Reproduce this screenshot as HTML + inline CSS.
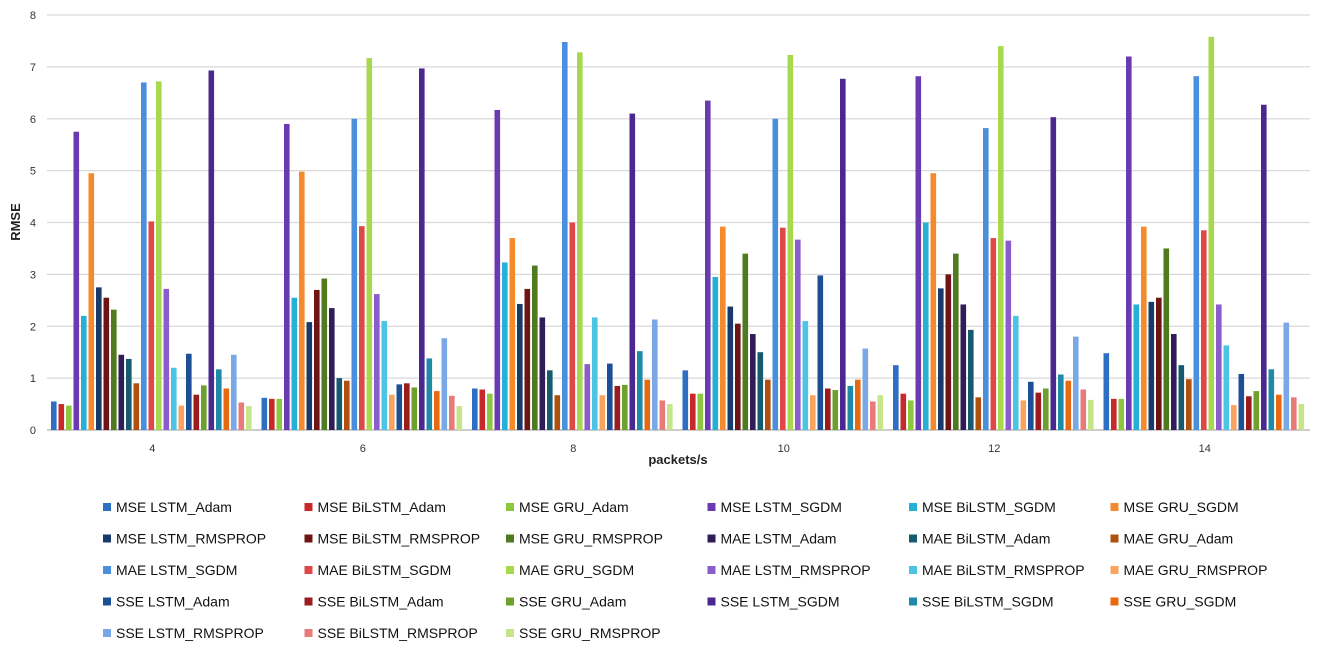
<!DOCTYPE html>
<html><head><meta charset="utf-8"><style>
body{margin:0;background:#fff;font-family:"Liberation Sans",sans-serif}
svg text{font-family:"Liberation Sans",sans-serif}
</style></head><body>
<svg width="1325" height="653" viewBox="0 0 1325 653">
<g id="grid"></g>
<g id="bars"></g>
<g id="axes"></g>
<g id="legend"></g>
<text x="20" y="222" transform="rotate(-90 20 222)" text-anchor="middle" font-size="13" font-weight="bold" fill="#222">RMSE</text>
<text x="678" y="464" text-anchor="middle" font-size="13" font-weight="bold" fill="#222">packets/s</text>
</svg>
<script>
const categories=["4","6","8","10","12","14"];
const seriesNames=["MSE LSTM_Adam","MSE BiLSTM_Adam","MSE GRU_Adam","MSE LSTM_SGDM","MSE BiLSTM_SGDM","MSE GRU_SGDM","MSE LSTM_RMSPROP","MSE BiLSTM_RMSPROP","MSE GRU_RMSPROP","MAE LSTM_Adam","MAE BiLSTM_Adam","MAE GRU_Adam","MAE LSTM_SGDM","MAE BiLSTM_SGDM","MAE GRU_SGDM","MAE LSTM_RMSPROP","MAE BiLSTM_RMSPROP","MAE GRU_RMSPROP","SSE LSTM_Adam","SSE BiLSTM_Adam","SSE GRU_Adam","SSE LSTM_SGDM","SSE BiLSTM_SGDM","SSE GRU_SGDM","SSE LSTM_RMSPROP","SSE BiLSTM_RMSPROP","SSE GRU_RMSPROP"];
const colors=["#2e6fc4","#c8282a","#8dc63f","#6a3bb0","#27b0d6","#f58a2c","#173a6b","#6f1414","#4f7a1f","#2f1c58","#155a6e","#b0500e","#4a8fdc","#e04848","#a8d84e","#8b5ccc","#4cc4e4","#f8a460","#1d4f94","#9a1c1c","#6ea02e","#4a2890","#1f8aa8","#e86a10","#7aa8e6","#e87a7a","#c6e48a"];
const values4=[0.55,0.5,0.47,5.75,2.2,4.95,2.75,2.55,2.32,1.45,1.37,0.9,6.7,4.02,6.72,2.72,1.2,0.47,1.47,0.68,0.86,6.93,1.17,0.8,1.45,0.53,0.46];
const values6=[0.62,0.6,0.6,5.9,2.55,4.98,2.08,2.7,2.92,2.35,1.0,0.95,6.0,3.93,7.17,2.62,2.1,0.68,0.88,0.9,0.82,6.97,1.38,0.75,1.77,0.66,0.46];
const values8=[0.8,0.78,0.7,6.17,3.23,3.7,2.43,2.72,3.17,2.17,1.15,0.67,7.48,4.0,7.28,1.27,2.17,0.67,1.28,0.85,0.87,6.1,1.52,0.97,2.13,0.57,0.5];
const values10=[1.15,0.7,0.7,6.35,2.95,3.92,2.38,2.05,3.4,1.85,1.5,0.97,6.0,3.9,7.23,3.67,2.1,0.67,2.98,0.8,0.77,6.77,0.85,0.97,1.57,0.55,0.67];
const values12=[1.25,0.7,0.57,6.82,4.0,4.95,2.73,3.0,3.4,2.42,1.93,0.63,5.82,3.7,7.4,3.65,2.2,0.57,0.93,0.72,0.8,6.03,1.07,0.95,1.8,0.78,0.58];
const values14=[1.48,0.6,0.6,7.2,2.42,3.92,2.47,2.55,3.5,1.85,1.25,0.98,6.82,3.85,7.58,2.42,1.63,0.48,1.08,0.65,0.75,6.27,1.17,0.68,2.07,0.63,0.5];
const yTicks=[0,1,2,3,4,5,6,7,8];
const groupValues=[values4,values6,values8,values10,values12,values14];
const NS="http://www.w3.org/2000/svg";
const X0=47,X1=1310,Y0=430,Y8=15;
const yScale=v=>Y0-(v/8)*(Y0-Y8);
const gw=(X1-X0)/categories.length;
const slot=7.5,bw=5.6;
function mk(t,a,p){const e=document.createElementNS(NS,t);for(const k in a)e.setAttribute(k,a[k]);p.appendChild(e);return e;}
const grid=document.getElementById('grid'),bars=document.getElementById('bars'),axes=document.getElementById('axes'),legend=document.getElementById('legend');
yTicks.forEach(t=>{
  const l=mk('line',{x1:X0,x2:X1,y1:yScale(t),y2:yScale(t),stroke:t===0?'#bbb':'#d9d9d9','stroke-width':t===0?1.5:1.2},grid);
  
  
  const tx=mk('text',{x:36,y:yScale(t)+4,'text-anchor':'end','font-size':11,fill:'#333'},axes);
  tx.textContent=t;
  
  
});
categories.forEach((c,gi)=>{
  const gx=X0+gi*gw;
  const start=gx+(gw-slot*27)/2;
  groupValues[gi].forEach((v,si)=>{
    const y=yScale(v);
    const r=mk('rect',{x:start+si*slot,y:y,width:bw,height:Y0-y,fill:colors[si]},bars);
    
    
  });
  const tx=mk('text',{x:gx+gw/2,y:452,'text-anchor':'middle','font-size':11,fill:'#333'},axes);
  tx.textContent=c;
  
  
});
seriesNames.forEach((n,i)=>{
  const col=i%6,row=Math.floor(i/6);
  const x=103+col*201.5,y=507+row*31.5;
  const g=mk('g',{},legend);
  
  
  mk('rect',{x:x,y:y-4,width:8,height:8,fill:colors[i]},g);
  const t=mk('text',{x:x+13,y:y+5,'font-size':14,fill:'#111'},g);
  t.textContent=n;
});
</script>
</body></html>
